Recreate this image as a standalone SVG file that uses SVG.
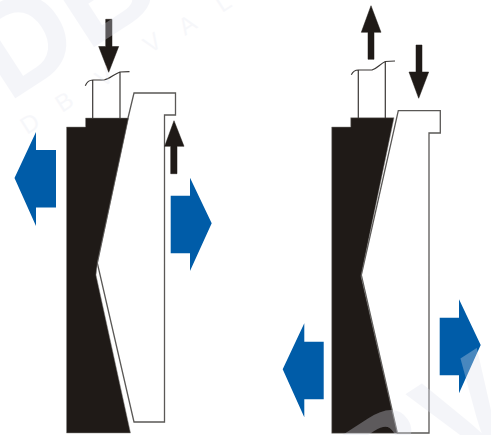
<svg xmlns="http://www.w3.org/2000/svg" width="491" height="435" viewBox="0 0 491 435">
<style>
.body{fill:#1f1a17;stroke:#8a8886;stroke-width:.5}
.wedge{fill:#fff;stroke:#5a5856;stroke-width:1.3;stroke-linejoin:miter}
.pipe{fill:none;stroke:#3a3735;stroke-width:1.2}
.blue{fill:#005ca8}
.push{fill:#1f1a17;stroke:#1f1a17;stroke-width:.5}
.wm{font-family:"Liberation Sans",Arial,sans-serif;font-weight:700;fill:#dfe2ee;opacity:.32}
.wms{font-family:"Liberation Sans",Arial,sans-serif;font-size:24px;fill:#dfe2ee;opacity:.25}
</style>
<rect width="491" height="435" fill="#fff"/>
<g id="valve-left">
<polygon class="wedge" points="134,93 175.5,93 175.5,115 164.5,115 164.5,422 134,422 97.3,263 128,118"/>
<polygon class="body" points="66.5,127 85.5,127 85.5,118 128.5,118 97.5,262 96,275 130.5,433 66.5,433"/>
<path class="pipe" d="M92.7,118V80M120,118V72M85.3,85.7C87,81.5 90,80 93,80L104,80C110,79 114,74 120,72L129.5,71.7"/>
</g>
<g id="valve-right">
<polygon class="wedge" points="398.3,110.7 440.3,110.7 440.3,133 429,133 429,433 397.3,433 361.3,275"/>
<polygon class="body" points="331.7,127 350.7,127 350.7,117.7 394,117.7 361,276 397.3,433.3 331.7,433.3"/>
<path class="pipe" d="M358.3,118V70M385.3,118V61.5M351.3,74.7C353,71.5 355,70 358.3,70L372,70C377,68.5 380,64 385.3,61.5L395,61"/>
</g>
<g id="connectors">
<polygon class="blue" points="14.5,178 36,132 36,150 56,150 56,207.5 36,207.5 36,226"/>
<polygon class="blue" points="170.7,195.7 190,195.7 190,177.7 211.7,223.3 190,271 190,253.3 170.7,253.3"/>
<polygon class="blue" points="282.7,369.3 304.3,323.3 304.3,341.7 323.7,341.7 323.7,399.3 304.3,399.3 304.3,417.3"/>
<polygon class="blue" points="439.7,317.7 459,317.7 459,299.3 480.7,345 459,393.3 459,375.3 439.7,375.3"/>
<polygon class="push" points="105.7,19.3 112,19.3 112,46.5 118.7,46.5 108.7,72.3 98.7,46.5 105.7,46.5"/>
<polygon class="push" points="170.7,173.7 177,173.7 177,146.3 184,146.3 174,120.7 164.7,146.3 170.7,146.3"/>
<polygon class="push" points="368,59.3 374,59.3 374,32.3 381,32.3 371,5.7 361.3,32.3 368,32.3"/>
<polygon class="push" points="416,45 422,45 422,72 428.7,72 418.7,98.3 409,72 416,72"/>
</g>
<g id="watermark">
<text class="wm" font-size="130" transform="translate(8,103) rotate(-33)">DBV</text>
<text class="wm" font-size="130" transform="translate(296,572) rotate(-33)">DBV</text>
<g class="wms">
<text transform="translate(27,135) rotate(-33)">D</text>
<text transform="translate(62,113) rotate(-33)">B</text>
<text transform="translate(102,88) rotate(-33)">V</text>
<text transform="translate(150,54) rotate(-33)">V</text>
<text transform="translate(185,36) rotate(-33)">A</text>
<text transform="translate(222,13) rotate(-33)">L</text>
</g>
</g>
</svg>
